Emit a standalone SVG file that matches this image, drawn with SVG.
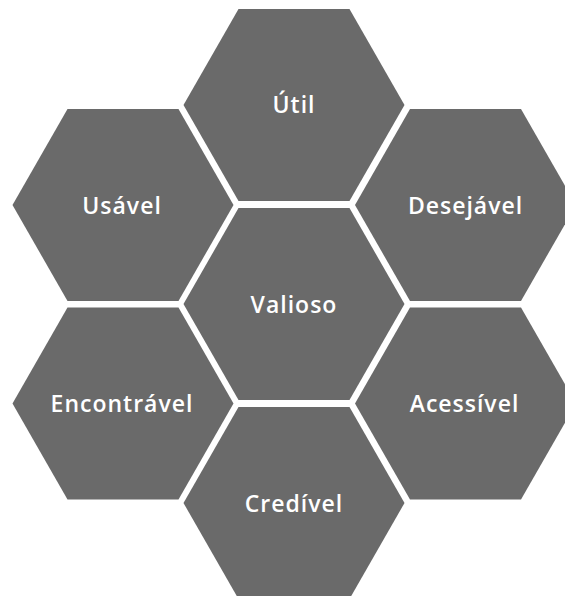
<svg xmlns="http://www.w3.org/2000/svg" width="565" height="596" viewBox="0 0 565 596">
<style>
.hex{fill:#6a6a6a}
.lbl{fill:#ffffff;font-family:"Open Sans","Noto Sans","DejaVu Sans",sans-serif;font-weight:600;font-size:23px;text-anchor:middle;letter-spacing:1px}
</style>
<defs>
<polygon id="h" points="-110.5,0 -55.5,-96 55.5,-96 110.5,0 55.5,96 -55.5,96"/>
</defs>
<rect width="565" height="596" fill="#ffffff"/>
<g id="connectors"/>
<g id="util" transform="translate(294,105)"><use href="#h" class="hex"/><text class="lbl" y="8">Útil</text></g>
<g id="usavel" transform="translate(123,205)"><use href="#h" class="hex"/><text class="lbl" x="-1" y="8.5">Usável</text></g>
<g id="desejavel" transform="translate(465.5,205)"><use href="#h" class="hex"/><text class="lbl" y="8.5">Desejável</text></g>
<g id="valioso" transform="translate(294,304)"><use href="#h" class="hex"/><text class="lbl" y="8.5">Valioso</text></g>
<g id="encontravel" transform="translate(123,403.5)"><use href="#h" class="hex"/><text class="lbl" x="-1" y="8.5">Encontrável</text></g>
<g id="acessivel" transform="translate(465.5,403.5)"><use href="#h" class="hex"/><text class="lbl" x="-1" y="8.5">Acessível</text></g>
<g id="credivel" transform="translate(294,503)"><use href="#h" class="hex"/><text class="lbl" y="8.5">Credível</text></g>
</svg>
